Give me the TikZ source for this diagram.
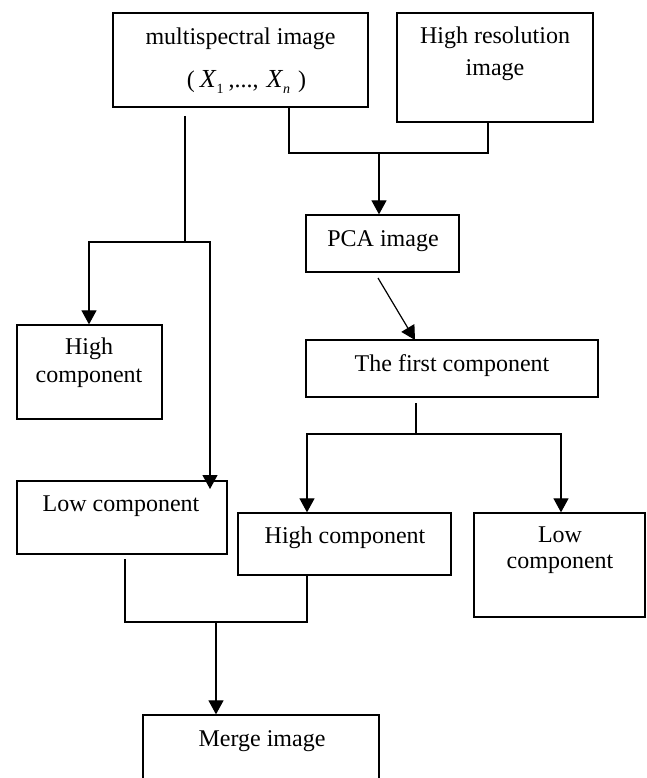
\documentclass[tikz,border=0pt]{standalone}
\usepackage{fontspec}
\setmainfont{Liberation Serif}
\usetikzlibrary{arrows.meta}
\newcommand{\mysub}[1]{\raisebox{-6pt}{\fontsize{14}{14}\selectfont #1}}
\newcommand{\bigX}{{\fontsize{26}{26}\selectfont\textit{X}}}
\begin{document}
\begin{tikzpicture}[x=1pt,y=-1pt,
  box/.style={draw, line width=1.3pt, inner sep=0pt},
  txt/.style={inner sep=0pt, font=\fontsize{24}{28}\selectfont, text height=16pt, text depth=5pt},
  conn/.style={line width=1.2pt},
  arr/.style={line width=1.2pt, -{Triangle[length=14pt,width=15pt]}}]
\useasboundingbox (0,0) rectangle (646,778);
% boxes
\node[box, minimum width=255pt, minimum height=94pt] (ms) at (240.5,60) {};
\node[box, minimum width=196pt, minimum height=109pt] (hr) at (495,67.5) {};
\node[box, minimum width=153pt, minimum height=57pt] (pca) at (382.5,243.5) {};
\node[box, minimum width=292pt, minimum height=57pt] (first) at (452,368.5) {};
\node[box, minimum width=145pt, minimum height=94pt] (lhigh) at (89.5,372) {};
\node[box, minimum width=210pt, minimum height=73pt] (llow) at (122,517.5) {};
\node[box, minimum width=213pt, minimum height=62pt] (mhigh) at (344.5,544) {};
\node[box, minimum width=171pt, minimum height=104pt] (rlow) at (559.5,565) {};
\node[box, minimum width=236pt, minimum height=64pt] (merge) at (261,747) {};
% texts
\node[txt] (mst1) at (240.5,39) {multispectral image};
\node[txt] (mst2) at (246.5,82) {(\hspace{5pt}\bigX\mysub{1}\hspace{5pt},...,\hspace{8pt}\bigX\mysub{\textit{n}}\hspace{8pt})};
\node[txt] (hrt1) at (495,38) {High resolution};
\node[txt] (hrt2) at (495,70) {image};
\node[txt] (pcat) at (383,241) {PCA image};
\node[txt] (firstt) at (452,366) {The first component};
\node[txt] (lhight1) at (89,349) {High};
\node[txt] (lhight2) at (89,377) {component};
\node[txt] (llowt) at (121,506) {Low component};
\node[txt] (mhight) at (345,538) {High component};
\node[txt] (rlowt1) at (560,537) {Low};
\node[txt] (rlowt2) at (560,563) {component};
\node[txt] (merget) at (262,741) {Merge image};
% coordinates
\coordinate (j1) at (289,153);
\coordinate (j2) at (488,153);
\coordinate (j3) at (379,153);
\coordinate (s1) at (185,116);
\coordinate (j4) at (185,242);
\coordinate (j5) at (89,242);
\coordinate (j6) at (210,242);
\coordinate (t1) at (210,489);
\coordinate (s2) at (378,278);
\coordinate (t2) at (415,340);
\coordinate (s3) at (416,403);
\coordinate (j7) at (416,434);
\coordinate (j8) at (307,434);
\coordinate (j9) at (561,434);
\coordinate (s4) at (125,559);
\coordinate (j10) at (125,622);
\coordinate (j11) at (307,622);
\coordinate (j12) at (216,622);
% connectors
\draw[conn] (ms.south -| j1) -- (j1) -- (j2) -- (hr.south -| j2);
\draw[arr] (j3) -- (pca.north -| j3);
\draw[conn] (s1) -- (j4);
\draw[arr] (j4) -- (j5) -- (lhigh.north -| j5);
\draw[arr] (j4) -- (j6) -- (t1);
\draw[arr] (s2) -- (t2);
\draw[conn] (s3) -- (j7);
\draw[arr] (j7) -- (j8) -- (mhigh.north -| j8);
\draw[arr] (j7) -- (j9) -- (rlow.north -| j9);
\draw[conn] (s4) -- (j10) -- (j11) -- (mhigh.south -| j11);
\draw[arr] (j12) -- (merge.north -| j12);
\end{tikzpicture}
\end{document}
